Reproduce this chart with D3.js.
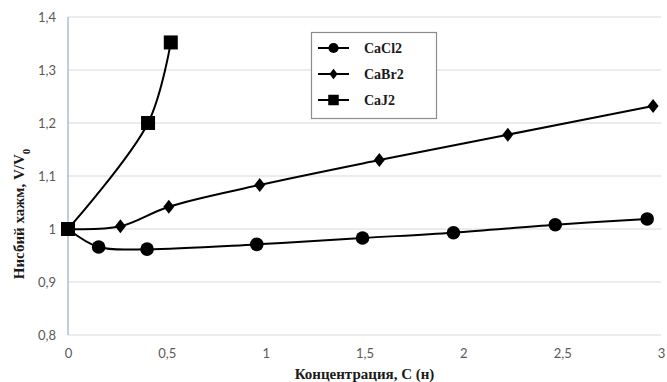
<!DOCTYPE html>
<html>
<head>
<meta charset="utf-8">
<script src="https://cdn.jsdelivr.net/npm/d3@7/dist/d3.min.js"></script>
<style>
  html, body { margin: 0; padding: 0; background: #fff; }
  svg { display: block; }
</style>
</head>
<body>
<svg id="chart" width="667" height="382"></svg>
<script>
// Relative volume V/V0 versus concentration C for three calcium salts
const xTicks = [0, 0.5, 1, 1.5, 2, 2.5, 3];
const yTicks = [0.8, 0.9, 1.0, 1.1, 1.2, 1.3, 1.4];

const cacl2C = [0, 0.155, 0.40, 0.955, 1.49, 1.95, 2.465, 2.93];
const cacl2V = [1.0, 0.966, 0.962, 0.971, 0.983, 0.993, 1.008, 1.019];

const cabr2C = [0, 0.265, 0.51, 0.97, 1.575, 2.225, 2.96];
const cabr2V = [1.0, 1.005, 1.042, 1.083, 1.130, 1.178, 1.232];

const caj2C = [0, 0.405, 0.52];
const caj2V = [1.0, 1.2, 1.352];

const seriesNames = ["CaCl2", "CaBr2", "CaJ2"];
const seriesShapes = ["circle", "diamond", "square"];

const svg = d3.select("#chart");
const plotLeft = 68, plotRight = 661, plotTop = 17, plotBottom = 335;

const x = d3.scaleLinear().domain([0, 3]).range([plotLeft, plotRight]);
const y = d3.scaleLinear().domain([0.8, 1.4]).range([plotBottom, plotTop]);

const fmt = v => (Math.round(v * 10) / 10).toString().replace(".", ",");

// horizontal gridlines
svg.append("g")
  .selectAll("line")
  .data(yTicks)
  .join("line")
  .attr("x1", plotLeft).attr("x2", plotRight)
  .attr("y1", d => y(d)).attr("y2", d => y(d))
  .attr("stroke", "#d9d9d9").attr("stroke-width", 1);

// vertical axis line
svg.append("line")
  .attr("x1", plotLeft).attr("x2", plotLeft)
  .attr("y1", y(1.4)).attr("y2", y(0.8))
  .attr("stroke", "#9fb4c2").attr("stroke-width", 1.3);

// y tick labels
const yAxis = d3.axisLeft(y).tickValues(yTicks).tickFormat(fmt).tickSize(0).tickPadding(12);
const gy = svg.append("g").attr("transform", `translate(${plotLeft},0)`).call(yAxis);
gy.select(".domain").remove();
gy.selectAll("text")
  .attr("fill", "#595959")
  .style("font-family", "Lato, 'Open Sans', sans-serif")
  .style("font-size", "13px");

// x tick labels
const xAxis = d3.axisBottom(x).tickValues(xTicks).tickFormat(fmt).tickSize(0).tickPadding(14);
const gx = svg.append("g").attr("transform", `translate(0,${plotBottom})`).call(xAxis);
gx.select(".domain").remove();
gx.selectAll("text")
  .attr("fill", "#595959")
  .style("font-family", "Lato, 'Open Sans', sans-serif")
  .style("font-size", "13px");

// axis titles
svg.append("text")
  .attr("x", (plotLeft + plotRight) / 2).attr("y", 379)
  .attr("text-anchor", "middle")
  .style("font-family", "'Liberation Serif', 'Times New Roman', serif")
  .style("font-weight", "bold").style("font-size", "15px")
  .attr("fill", "#1a1a1a")
  .text("Концентрация, С (н)");

const yTitle = svg.append("text")
  .attr("transform", "translate(24,214) rotate(-90)")
  .attr("text-anchor", "middle")
  .style("font-family", "'Liberation Serif', 'Times New Roman', serif")
  .style("font-weight", "bold").style("font-size", "15px")
  .attr("fill", "#1a1a1a");
yTitle.append("tspan").text("Нисбий хажм, V/V");
yTitle.append("tspan").attr("baseline-shift", "sub").style("font-size", "11px").text("0");

// series lines (smoothed)
const line = d3.line()
  .x(d => x(d[0])).y(d => y(d[1]))
  .curve(d3.curveCatmullRom.alpha(0.5));

const allSeries = [
  d3.zip(cacl2C, cacl2V),
  d3.zip(cabr2C, cabr2V),
  d3.zip(caj2C, caj2V)
];

allSeries.forEach(pts => {
  svg.append("path")
    .attr("d", line(pts))
    .attr("fill", "none")
    .attr("stroke", "#000")
    .attr("stroke-width", 2);
});

// marker shapes
function drawMarker(g, shape, cx, cy, s) {
  if (shape === "circle") {
    g.append("circle").attr("cx", cx).attr("cy", cy).attr("r", 6.8 * s).attr("fill", "#000");
  } else if (shape === "diamond") {
    const w = 5.5 * s, h = 7 * s;
    g.append("path")
      .attr("d", `M${cx},${cy - h}L${cx + w},${cy}L${cx},${cy + h}L${cx - w},${cy}Z`)
      .attr("fill", "#000");
  } else {
    const a = 7 * s;
    g.append("rect").attr("x", cx - a).attr("y", cy - a)
      .attr("width", 2 * a).attr("height", 2 * a).attr("fill", "#000");
  }
}

const markers = svg.append("g");
allSeries.forEach((pts, i) => {
  pts.forEach(p => drawMarker(markers, seriesShapes[i], x(p[0]), y(p[1]), 1));
});

// legend
const lg = svg.append("g");
lg.append("rect")
  .attr("x", 311.5).attr("y", 32.5).attr("width", 125).attr("height", 86)
  .attr("fill", "#fff").attr("stroke", "#8c8c8c").attr("stroke-width", 1.2);

seriesNames.forEach((name, i) => {
  const yy = 48 + i * 26;
  lg.append("line")
    .attr("x1", 318).attr("x2", 349).attr("y1", yy).attr("y2", yy)
    .attr("stroke", "#000").attr("stroke-width", 2);
  drawMarker(lg, seriesShapes[i], 333.5, yy, 0.75);
  lg.append("text")
    .attr("x", 364).attr("y", yy + 5)
    .style("font-family", "'Liberation Serif', 'Times New Roman', serif")
    .style("font-weight", "bold").style("font-size", "14px")
    .attr("fill", "#1a1a1a")
    .text(name);
});
</script>
</body>
</html>
